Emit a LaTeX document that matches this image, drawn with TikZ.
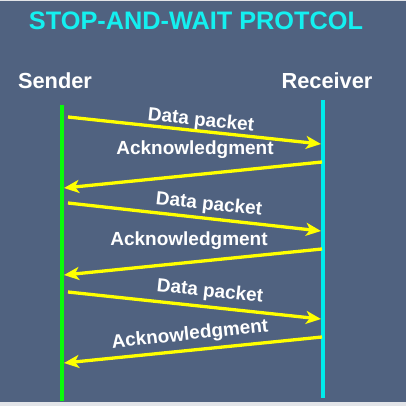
\documentclass[tikz,border=0pt]{standalone}
\usepackage{fontspec}
\setmainfont{Liberation Sans}
\usetikzlibrary{arrows.meta}
\definecolor{slate}{RGB}{80,98,128}
\definecolor{edgegray}{RGB}{226,228,232}
\definecolor{titlecyan}{RGB}{20,240,240}
\definecolor{msgyellow}{RGB}{255,255,0}
\definecolor{sendgreen}{RGB}{10,250,10}
\definecolor{recvcyan}{RGB}{0,235,235}
\begin{document}
\begin{tikzpicture}[x=1pt,y=-1pt]
\tikzstyle{every node}=[font=\bfseries\fontsize{19}{23}\selectfont,text=white,inner sep=0pt];
\tikzstyle{msg}=[draw=msgyellow,line width=3.3pt,-{Stealth[length=15pt,width=13pt,inset=4pt]}];
\fill[edgegray] (0,0) rectangle (406,406);
\fill[slate] (0,1) rectangle (406,402);
\useasboundingbox (0,0) rectangle (406,406);
\node[anchor=base,text=titlecyan,font=\bfseries\fontsize{25.3}{30}\selectfont] (title) at (196,30) {STOP-AND-WAIT PROTCOL};
\node[anchor=base,font=\bfseries\fontsize{21.8}{26}\selectfont] (sender) at (55,89) {Sender};
\node[anchor=base,font=\bfseries\fontsize{21.8}{26}\selectfont] (receiver) at (327,89) {Receiver};
% time lines
\coordinate (s0) at (62,105);
\coordinate (s1) at (62,401);
\coordinate (r0) at (323,100);
\coordinate (r1) at (323,398);
\draw[sendgreen,line width=3.5pt] (s0) -- (s1);
\draw[recvcyan,line width=3.5pt] (r0) -- (r1);
% messages
\coordinate (d1a) at (68,117);
\coordinate (d1b) at (321,144);
\coordinate (a1a) at (322,162);
\coordinate (a1b) at (64,188);
\coordinate (d2a) at (68,203);
\coordinate (d2b) at (321,231);
\coordinate (a2a) at (322,249);
\coordinate (a2b) at (64,275);
\coordinate (d3a) at (68,292);
\coordinate (d3b) at (321,319);
\coordinate (a3a) at (322,337);
\coordinate (a3b) at (64,363);
\draw[msg] (d1a) -- (d1b);
\draw[msg] (a1a) -- (a1b);
\draw[msg] (d2a) -- (d2b);
\draw[msg] (a2a) -- (a2b);
\draw[msg] (d3a) -- (d3b);
\draw[msg] (a3a) -- (a3b);
\node[rotate=-6] (data1) at (201,121) {Data packet};
\node (ack1) at (195,150) {Acknowledgment};
\node[rotate=-6] (data2) at (209,205) {Data packet};
\node (ack2) at (189,241) {Acknowledgment};
\node[rotate=-6] (data3) at (210,292) {Data packet};
\node[rotate=6] (ack3) at (190,335) {Acknowledgment};
\end{tikzpicture}
\end{document}
